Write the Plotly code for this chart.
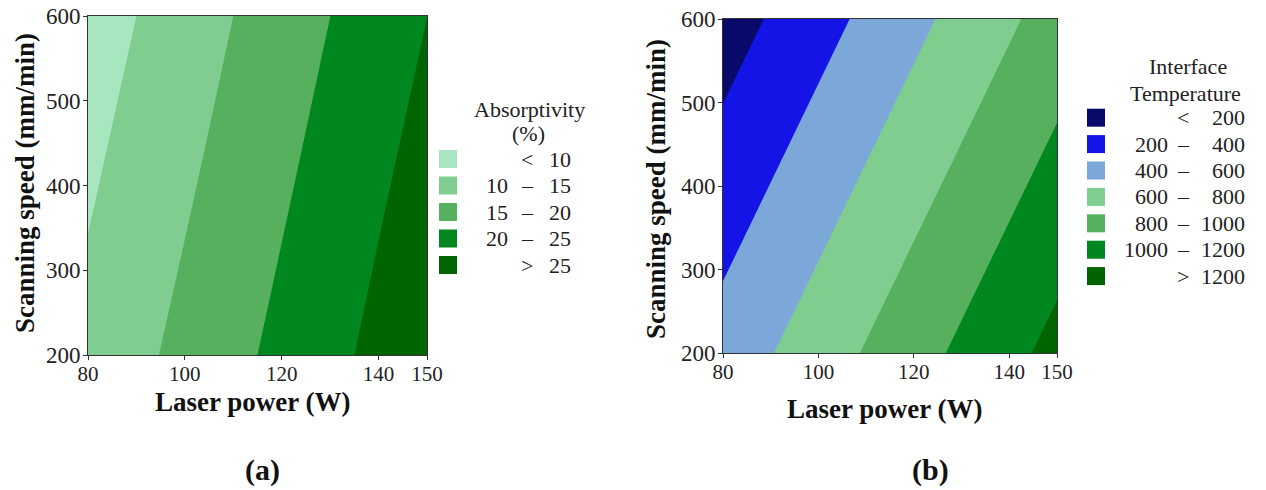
import plotly.graph_objects as go

# ---------------- data ----------------
power = [80, 115, 150]            # Laser power (W)
speed = [200, 400, 600]           # Scanning speed (mm/min)
absorptivity = [[11.4, 20.0, 28.75],   # speed 200
                [9.45, 18.1, 26.9],    # speed 400
                [7.5, 16.25, 24.97]]   # speed 600
temperature = [[481, 870, 1259],
               [293, 682, 1071],
               [105, 494, 883]]
abs_levels = [10, 15, 20, 25]
temp_levels = [200, 400, 600, 800, 1000, 1200]
abs_colors = ["#a8e6c0", "#80cd90", "#56b05e", "#00871f", "#006400"]
temp_colors = ["#0a0a6a", "#1414e6", "#7ba7d9", "#80cd90", "#56b05e", "#00871f", "#006400"]
x_ticks = [80, 100, 120, 140, 150]
y_ticks = [200, 300, 400, 500, 600]
x_title = "Laser power (W)"
y_title = "Scanning speed (mm/min)"
panel_labels = ["(a)", "(b)"]

# ---------------- layout constants ----------------
W, H = 1266, 490
FONT = "Liberation Serif"
TXT = "#222222"


def px(x):
    return x / W


def py(y):
    return 1 - y / H


def stepscale(colors):
    n = len(colors)
    return [[i / (n - 1), c] for i, c in enumerate(colors)]


fig = go.Figure()


def add_contour(z, levels, colors, xa, ya):
    fig.add_trace(go.Contour(
        x=power, y=speed, z=z, xaxis=xa, yaxis=ya,
        colorscale=stepscale(colors), showscale=False, autocontour=False,
        contours=dict(start=levels[0], end=levels[-1], size=levels[1] - levels[0],
                      coloring="fill", showlines=False),
        line=dict(width=0), hoverinfo="skip", showlegend=False))


add_contour(absorptivity, abs_levels, abs_colors, "x", "y")
add_contour(temperature, temp_levels, temp_colors, "x2", "y2")

axis_common = dict(showline=True, linecolor="#333333", linewidth=1, mirror=True,
                   ticks="outside", ticklen=4, tickcolor="#333333", showgrid=False,
                   zeroline=False, automargin=False)
xfont = dict(family=FONT, size=21, color=TXT)
yfont = dict(family=FONT, size=23, color=TXT)

fig.update_layout(
    width=W, height=H, margin=dict(l=0, r=0, t=0, b=0),
    paper_bgcolor="white", plot_bgcolor="white", showlegend=False,
    xaxis=dict(domain=[px(88), px(427)], range=[80, 150], tickvals=x_ticks, anchor="y",
               tickfont=xfont, ticklabelstandoff=-4, **axis_common),
    yaxis=dict(domain=[py(355), py(16)], range=[200, 600], tickvals=y_ticks, anchor="x",
               tickfont=yfont, ticklabelstandoff=-2, **axis_common),
    xaxis2=dict(domain=[px(723), px(1057)], range=[80, 150], tickvals=x_ticks, anchor="y2",
                tickfont=xfont, ticklabelstandoff=-4, **axis_common),
    yaxis2=dict(domain=[py(353), py(19)], range=[200, 600], tickvals=y_ticks, anchor="x2",
                tickfont=yfont, ticklabelstandoff=-2, **axis_common),
)

annotations = []
shapes = []


def ann(x, y, text, xanchor="center", size=22, angle=0, color=TXT):
    annotations.append(dict(x=px(x), y=py(y), xref="paper", yref="paper", text=text,
                            showarrow=False, xanchor=xanchor, yanchor="middle",
                            textangle=angle,
                            font=dict(family=FONT, size=size, color=color)))


# axis titles
ann(252, 402, "<b>" + x_title + "</b>", size=27, color="#111111")
ann(25, 183, "<b>" + y_title + "</b>", size=27, angle=-90, color="#111111")
ann(885, 409, "<b>" + x_title + "</b>", size=27, color="#111111")
ann(656, 189, "<b>" + y_title + "</b>", size=27, angle=-90, color="#111111")


def draw_legend(levels, colors, titles, sw_x0, sw_w, row_y0, row_dy, col_l, col_m, col_r):
    for (tx, ty, t) in titles:
        ann(tx, ty, t)
    bands = [("", "<", str(levels[0]))]
    bands += [(str(a), "–", str(b)) for a, b in zip(levels[:-1], levels[1:])]
    bands += [("", ">", str(levels[-1]))]
    for i, ((lo, sym, hi), c) in enumerate(zip(bands, colors)):
        yc = row_y0 + i * row_dy
        shapes.append(dict(type="rect", xref="paper", yref="paper",
                           x0=px(sw_x0), x1=px(sw_x0 + sw_w),
                           y0=py(yc + sw_w / 2), y1=py(yc - sw_w / 2),
                           fillcolor=c, line=dict(width=0)))
        if lo:
            ann(col_l, yc, lo, xanchor="right")
        ann(col_m, yc, sym)
        ann(col_r, yc, hi, xanchor="right")


draw_legend(abs_levels, abs_colors,
            [(529, 109, "Absorptivity"), (528, 134, "(%)")],
            439, 18, 159, 26.5, 510, 527, 573)
draw_legend(temp_levels, temp_colors,
            [(1188, 67, "Interface"), (1185, 93, "Temperature")],
            1087, 18, 117.7, 26.4, 1170, 1183, 1247)

for (x, t) in zip([262, 930], panel_labels):
    ann(x, 470, "<b>" + t + "</b>", size=30, color="#111111")

fig.update_layout(annotations=annotations, shapes=shapes)
fig.write_html("out.html")
